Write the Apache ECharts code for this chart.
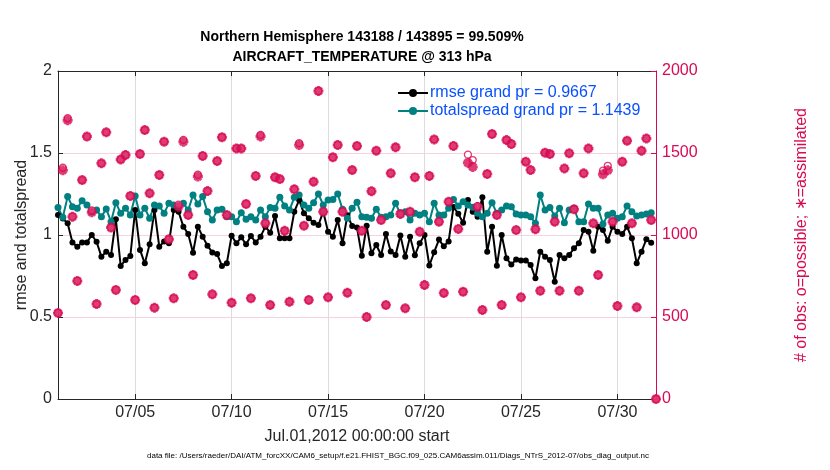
<!DOCTYPE html>
<html>
<head>
<meta charset="utf-8">
<script src="https://cdn.jsdelivr.net/npm/echarts@6/dist/echarts.min.js"></script>
<style>
html,body{margin:0;padding:0;background:#fff;}
#chart{width:830px;height:470px;}
</style>
</head>
<body>
<div id="chart"></div>
<script>
// ---- data (6-hourly bins, Jul 1 00Z .. Aug 1 00Z) ----
const startDay = 1;          // day-of-July of first bin
const binsPerDay = 4;
const dateTicks = [5, 10, 15, 20, 25, 30];
const leftTicks = [0, 0.5, 1, 1.5, 2];
const rightTicks = [0, 500, 1000, 1500, 2000];

const rmse = [
1.122,1.10,1.071,0.955,0.929,0.955,0.955,1.0,0.959,0.868,
0.898,0.878,1.096,0.811,0.848,0.872,1.152,0.909,0.827,0.943,
1.152,0.929,0.96,0.949,1.152,1.142,1.051,1.006,0.892,1.051,
0.990,0.935,0.894,0.884,0.811,0.827,0.996,0.949,0.986,0.943,
0.994,0.955,0.990,1.051,1.014,1.116,0.980,0.980,0.980,1.142,
1.213,1.132,1.102,1.075,1.061,1.142,1.020,0.990,1.091,0.949,
1.12,1.055,1.045,0.873,1.056,0.888,0.939,0.878,1.006,0.900,
0.878,0.997,0.868,0.990,0.876,0.95,1.0,0.814,0.895,0.972,
0.931,0.961,1.170,1.13,1.075,1.213,1.142,1.112,1.230,0.898,
1.051,0.812,1.0,0.858,0.82,0.85,0.845,0.845,0.817,0.736,
0.898,0.868,0.848,0.715,0.878,0.858,0.878,0.919,0.949,1.030,
1.020,0.904,1.051,1.030,0.965,1.051,1.020,1.006,1.051,0.980,
0.827,0.898,0.974,0.953
];

const totalspread = [
1.167,1.108,1.234,1.173,1.163,1.209,1.183,1.142,1.152,1.112,
1.159,1.081,1.197,1.132,1.163,1.122,1.238,1.122,1.163,1.102,
1.183,1.177,1.132,1.193,1.183,1.173,1.193,1.152,1.244,1.189,
1.234,1.142,1.091,1.152,1.157,1.112,1.112,1.081,1.136,1.096,
1.112,1.091,1.152,1.112,1.167,1.163,1.230,1.177,1.152,1.230,
1.244,1.183,1.163,1.197,1.250,1.183,1.213,1.217,1.250,1.157,
1.102,1.163,1.200,1.112,1.108,1.102,1.157,1.108,1.112,1.122,
1.193,1.128,1.142,1.091,1.132,1.122,1.132,1.081,1.193,1.122,
1.122,1.163,1.217,1.177,1.203,1.183,1.169,1.132,1.112,1.132,
1.197,1.132,1.152,1.177,1.173,1.128,1.122,1.122,1.112,1.071,
1.244,1.152,1.168,1.116,1.163,1.075,1.152,1.163,1.081,1.081,
1.189,1.163,1.163,1.067,1.122,1.132,1.102,1.112,1.177,1.142,
1.116,1.122,1.128,1.136
];

const assimilated = [
525,1395,1700,1112,720,1335,1600,1138,579,1437,
1626,1045,665,1461,1488,1238,604,1494,1640,1254,
557,1366,1569,974,614,1173,1569,1122,756,1356,
1482,1268,638,1451,1596,1122,587,1528,1528,1189,
614,1360,1600,1071,573,1352,1341,1026,593,1279,
1549,1057,604,1325,1878,1142,620,1474,1549,1142,
648,1396,1543,1026,500,1267,1514,1091,573,1376,
1535,1128,553,1142,1352,1020,695,1360,1583,1081,
646,1203,1543,1037,654,1440,1415,1170,543,1372,
1616,1122,573,1579,1555,1030,620,1447,1396,1035,
660,1502,1494,1081,660,1406,1498,1157,660,1376,
1528,1071,756,1370,1395,1081,567,1447,1575,1071,
559,1514,1589,1091,0
];

const possible = [
525,1410,1712,1112,720,1335,1600,1150,579,1437,
1626,1045,665,1461,1488,1238,604,1494,1640,1254,
557,1366,1569,974,614,1185,1580,1122,756,1368,
1482,1268,638,1451,1596,1122,587,1528,1528,1189,
614,1360,1610,1071,573,1352,1341,1026,593,1279,
1560,1057,604,1325,1878,1142,620,1474,1549,1142,
648,1396,1543,1026,500,1267,1514,1091,573,1376,
1535,1128,553,1142,1352,1020,695,1360,1583,1081,
646,1203,1543,1037,654,1490,1457,1176,543,1372,
1616,1122,573,1579,1555,1030,620,1447,1396,1035,
660,1502,1494,1081,660,1406,1498,1157,660,1376,
1528,1071,756,1392,1422,1081,567,1447,1575,1071,
559,1514,1589,1091,0
];

// ---- build series data ----
function xOf(i){ return startDay + i / binsPerDay; }
const rmseData = rmse.map((v,i)=>[xOf(i), v]);
const spreadData = totalspread.map((v,i)=>[xOf(i), v]);
const assimData = assimilated.map((v,i)=>[xOf(i), v]);
const possData = possible.map((v,i)=>[xOf(i), v]);

const OBS = 'rgb(215,10,83)';
const AX = '#262626';
const FONT = '"Liberation Sans", Arial, Helvetica, sans-serif';
const STAR = 'path://M0 35 L100 35 L100 65 L0 65 Z M35 0 L65 0 L65 100 L35 100 Z M5 26 L26 5 L95 74 L74 95 Z M74 5 L95 26 L26 95 L5 74 Z';

const chart = echarts.init(document.getElementById('chart'), null, {renderer:'canvas'});
chart.setOption({
  animation:false,
  backgroundColor:'#fff',
  textStyle:{fontFamily:FONT},
  title:{
    text:'Northern Hemisphere 143188 / 143895 = 99.509%\nAIRCRAFT_TEMPERATURE @ 313 hPa',
    left:357, top:22, textAlign:'center',
    textStyle:{fontFamily:FONT, fontSize:14, fontWeight:'bold', color:'#000', lineHeight:20}
  },
  legend:{
    data:['rmse grand pr = 0.9667','totalspread grand pr = 1.1439'],
    orient:'vertical', left:392, top:80, itemWidth:30, itemHeight:10, itemGap:2,
    textStyle:{fontFamily:FONT, fontSize:16, color:'#0a50ff', padding:[0,0,0,-3]},
    selectedMode:false
  },
  grid:{left:58, right:174, top:71, bottom:71, containLabel:false},
  xAxis:[{
    type:'value', min:1, max:32, position:'bottom',
    name:'Jul.01,2012 00:00:00 start', nameLocation:'middle', nameGap:30,
    nameTextStyle:{fontFamily:FONT, fontSize:16, color:AX},
    axisLine:{show:true, onZero:false, lineStyle:{color:AX, width:1}},
    axisTick:{show:true, inside:true, length:5, customValues:dateTicks, lineStyle:{color:AX}},
    axisLabel:{show:true, customValues:dateTicks, fontFamily:FONT, fontSize:16, color:AX, margin:6,
      formatter:function(v){ return '07/' + (v<10?'0':'') + v; }},
    splitLine:{show:true, lineStyle:{color:'#dcdcdc', width:1}}
  },{
    type:'value', min:1, max:32, position:'top',
    axisLine:{show:true, onZero:false, lineStyle:{color:AX, width:1}},
    axisTick:{show:true, inside:true, length:5, customValues:dateTicks, lineStyle:{color:AX}},
    axisLabel:{show:false},
    splitLine:{show:false}
  }],
  yAxis:[{
    type:'value', min:0, max:2, interval:0.5, position:'left',
    name:'rmse and totalspread', nameLocation:'middle', nameGap:28, nameRotate:90, nameMoveOverlap:false,
    nameTextStyle:{fontFamily:FONT, fontSize:16, color:AX},
    axisLine:{show:true, onZero:false, lineStyle:{color:AX, width:1}},
    axisTick:{show:true, inside:true, length:5, lineStyle:{color:AX}},
    axisLabel:{fontFamily:FONT, fontSize:16, color:AX, margin:6, formatter:function(v){ return String(v); }},
    splitLine:{show:false}
  },{
    type:'value', min:0, max:2000, interval:500, position:'right',
    name:'# of obs: o=possible; \u2217=assimilated', nameLocation:'middle', nameGap:138, nameRotate:90, nameMoveOverlap:false,
    nameTextStyle:{fontFamily:FONT, fontSize:16, color:OBS},
    axisLine:{show:true, onZero:false, lineStyle:{color:OBS, width:1}},
    axisTick:{show:true, inside:true, length:5, lineStyle:{color:OBS}},
    axisLabel:{fontFamily:FONT, fontSize:16, color:OBS, margin:6, formatter:function(v){ return String(v); }},
    splitLine:{show:true, lineStyle:{color:'#f7d3df', width:1}}
  }],
  series:[{
    name:'rmse grand pr = 0.9667', type:'line', xAxisIndex:0, yAxisIndex:0,
    data:rmseData, symbol:'circle', symbolSize:6, showAllSymbol:true,
    lineStyle:{color:'#000', width:2}, itemStyle:{color:'#000'}, z:3
  },{
    name:'totalspread grand pr = 1.1439', type:'line', xAxisIndex:0, yAxisIndex:0,
    data:spreadData, symbol:'circle', symbolSize:7, showAllSymbol:true,
    lineStyle:{color:'#008080', width:2}, itemStyle:{color:'#008080'}, z:3
  },{
    name:'possible', type:'scatter', xAxisIndex:0, yAxisIndex:1,
    data:possData, symbol:'circle', symbolSize:7,
    itemStyle:{color:'#fff', borderColor:OBS, borderWidth:1.3}, z:4, clip:false
  },{
    name:'assimilated', type:'scatter', xAxisIndex:0, yAxisIndex:1,
    data:assimData, symbol:STAR, symbolSize:10,
    itemStyle:{color:OBS}, z:5, clip:false
  }],
  graphic:[{
    type:'text', left:147, top:452,
    style:{text:'data file: /Users/raeder/DAI/ATM_forcXX/CAM6_setup/f.e21.FHIST_BGC.f09_025.CAM6assim.011/Diags_NTrS_2012-07/obs_diag_output.nc',
      font:'8px "Liberation Sans", Arial, sans-serif', fill:'#000'}
  }]
});
</script>
</body>
</html>
